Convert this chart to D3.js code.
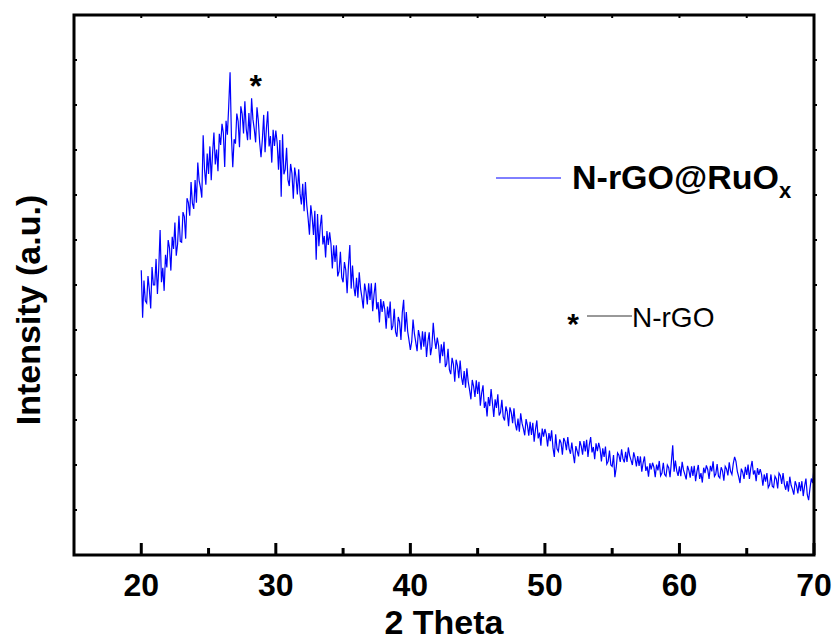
<!DOCTYPE html>
<html>
<head>
<meta charset="utf-8">
<script src="https://cdn.jsdelivr.net/npm/d3@7"></script>
<style>
  body { margin: 0; background: #fff; }
  svg text { font-family: "Liberation Sans", Arial, sans-serif; }
</style>
</head>
<body>
<div id="root"></div>
<script>
// XRD pattern of N-rGO@RuOx, 20-70 deg, 0.1 deg step
const thetaStart = 20;
const thetaStep = 0.1;
const intensity = [
  633, 527, 610, 565, 560, 620, 590, 548, 640, 600,
  600, 658, 580, 637, 722, 606, 638, 587, 667, 639,
  700, 682, 632, 707, 680, 739, 665, 691, 754, 697,
  695, 762, 752, 703, 793, 783, 754, 829, 782, 769,
  833, 783, 872, 832, 817, 794, 933, 857, 823, 892,
  847, 908, 833, 893, 939, 868, 901, 853, 936, 911,
  958, 938, 862, 965, 934, 998, 1073, 931, 862, 924,
  914, 981, 964, 906, 997, 980, 937, 1008, 947, 922,
  982, 923, 1015, 968, 946, 917, 995, 965, 917, 884,
  924, 978, 895, 948, 986, 908, 931, 872, 945, 909,
  943, 916, 856, 922, 796, 935, 846, 857, 905, 834,
  820, 869, 848, 792, 861, 840, 801, 857, 803, 779,
  825, 764, 829, 778, 748, 712, 777, 751, 711, 765,
  656, 758, 686, 729, 756, 690, 709, 661, 720, 689,
  717, 691, 637, 688, 651, 688, 619, 630, 674, 617,
  606, 651, 633, 582, 644, 689, 592, 643, 596, 575,
  616, 572, 628, 592, 572, 548, 603, 586, 557, 604,
  567, 604, 542, 579, 605, 546, 562, 517, 569, 540,
  564, 545, 503, 552, 526, 563, 500, 509, 547, 496,
  485, 529, 518, 478, 539, 567, 496, 540, 497, 477,
  456, 474, 523, 492, 473, 453, 500, 484, 456, 497,
  463, 496, 440, 474, 495, 444, 463, 516, 479, 458,
  483, 465, 426, 468, 442, 474, 418, 425, 458, 412,
  402, 438, 424, 385, 434, 421, 393, 432, 395, 378,
  409, 372, 415, 385, 367, 346, 389, 375, 351, 388,
  358, 385, 332, 360, 377, 327, 341, 308, 351, 331,
  369, 338, 307, 346, 327, 357, 310, 317, 345, 307,
  299, 330, 318, 286, 328, 317, 293, 326, 292, 277,
  303, 274, 315, 293, 281, 266, 302, 288, 265, 296,
  267, 294, 252, 279, 299, 259, 272, 243, 281, 263,
  280, 268, 241, 271, 253, 277, 238, 218, 268, 236,
  230, 257, 249, 223, 260, 252, 233, 262, 236, 225,
  250, 225, 204, 242, 231, 219, 253, 242, 223, 253,
  230, 256, 218, 245, 262, 228, 240, 213, 248, 231,
  249, 236, 208, 237, 218, 241, 202, 208, 232, 200,
  197, 222, 173, 194, 227, 222, 207, 235, 214, 206,
  229, 207, 239, 221, 211, 200, 228, 216, 197, 220,
  198, 219, 185, 205, 219, 187, 197, 174, 204, 190,
  205, 195, 173, 201, 188, 209, 176, 182, 205, 179,
  175, 200, 194, 173, 207, 244, 185, 210, 187, 176,
  197, 175, 207, 189, 179, 168, 198, 188, 172, 197,
  176, 198, 164, 186, 200, 169, 182, 161, 194, 182,
  199, 190, 169, 198, 186, 208, 175, 180, 202, 175,
  171, 195, 187, 165, 197, 191, 177, 206, 186, 179,
  203, 218, 208, 186, 174, 160, 192, 184, 169, 196,
  178, 201, 169, 193, 209, 179, 188, 164, 193, 178,
  191, 179, 154, 179, 163, 182, 150, 156, 179, 153,
  150, 175, 169, 148, 182, 177, 158, 182, 157, 145,
  164, 141, 174, 155, 146, 134, 164, 154, 137, 162,
  142, 164, 131, 153, 170, 134, 122, 148, 170, 160,
  195
];
const xTicks = [20, 30, 40, 50, 60, 70];
const xMinor = [25, 35, 45, 55, 65];
const xDomain = [15, 70];
const yDomain = [0, 1200];
const yTicks = [100, 200, 300, 400, 500, 600, 700, 800, 900, 1000, 1100];

const data = intensity.map((v, i) => ({theta: thetaStart + i * thetaStep, v: v}));

const svg = d3.select("#root")
  .append("svg")
  .attr("width", 838)
  .attr("height", 642);

const x = d3.scaleLinear().domain(xDomain).range([74, 814]);
const y = d3.scaleLinear().domain(yDomain).range([555, 15]);

// data trace
svg.append("path")
  .datum(data)
  .attr("fill", "none")
  .attr("stroke", "#0000ff")
  .attr("stroke-width", 1.2)
  .attr("d", d3.line().x(d => x(d.theta)).y(d => y(d.v)));

// ticks
const tk = svg.append("g").attr("stroke", "#000");
tk.selectAll(".major").data(xTicks).enter().append("line")
  .attr("x1", d => x(d)).attr("x2", d => x(d))
  .attr("y1", 555).attr("y2", 543).attr("stroke-width", 3);
tk.selectAll(".minor").data(xMinor).enter().append("line")
  .attr("x1", d => x(d)).attr("x2", d => x(d))
  .attr("y1", 555).attr("y2", 548).attr("stroke-width", 3);
tk.selectAll(".top").data(xTicks.concat(xMinor)).enter().append("line")
  .attr("x1", d => x(d)).attr("x2", d => x(d))
  .attr("y1", 15).attr("y2", 18).attr("stroke-width", 2);
tk.selectAll(".left").data(yTicks).enter().append("line")
  .attr("x1", 74).attr("x2", 77)
  .attr("y1", d => y(d)).attr("y2", d => y(d)).attr("stroke-width", 2);
tk.selectAll(".right").data(yTicks).enter().append("line")
  .attr("x1", 814).attr("x2", 817)
  .attr("y1", d => y(d)).attr("y2", d => y(d)).attr("stroke-width", 2);

// frame
svg.append("rect")
  .attr("x", x(xDomain[0])).attr("y", y(yDomain[1]))
  .attr("width", x(xDomain[1]) - x(xDomain[0]))
  .attr("height", y(yDomain[0]) - y(yDomain[1]))
  .attr("fill", "none").attr("stroke", "#000").attr("stroke-width", 3);

// tick labels
svg.selectAll(".xlab").data(xTicks).enter().append("text")
  .attr("x", d => x(d)).attr("y", 596)
  .attr("text-anchor", "middle")
  .attr("font-size", 32).attr("font-weight", "bold")
  .text(d => d);

// axis titles
svg.append("text")
  .attr("x", (x(xDomain[0]) + x(xDomain[1])) / 2).attr("y", 634)
  .attr("text-anchor", "middle")
  .attr("font-size", 34).attr("font-weight", "bold")
  .text("2 Theta");

svg.append("text")
  .attr("transform", "translate(40,310) rotate(-90)")
  .attr("text-anchor", "middle")
  .attr("font-size", 34).attr("font-weight", "bold")
  .text("Intensity (a.u.)");

// peak marker
svg.append("text")
  .attr("x", x(28.5)).attr("y", 97)
  .attr("text-anchor", "middle")
  .attr("font-size", 32).attr("font-weight", "bold")
  .text("*");

// legend
svg.append("line")
  .attr("x1", 496).attr("x2", 561).attr("y1", 178).attr("y2", 178)
  .attr("stroke", "#0000ff").attr("stroke-width", 1);
const lt = svg.append("text")
  .attr("x", 572).attr("y", 189)
  .attr("font-size", 34).attr("font-weight", "bold");
lt.append("tspan").text("N-rGO@RuO");
lt.append("tspan").attr("font-size", 22).attr("dy", 9).text("x");

svg.append("text")
  .attr("x", 573).attr("y", 334)
  .attr("text-anchor", "middle")
  .attr("font-size", 30).attr("font-weight", "bold")
  .text("*");
svg.append("line")
  .attr("x1", 587).attr("x2", 632).attr("y1", 316).attr("y2", 316)
  .attr("stroke", "#333").attr("stroke-width", 1);
svg.append("text")
  .attr("x", 632).attr("y", 327)
  .attr("font-size", 28)
  .text("N-rGO");
</script>
</body>
</html>
